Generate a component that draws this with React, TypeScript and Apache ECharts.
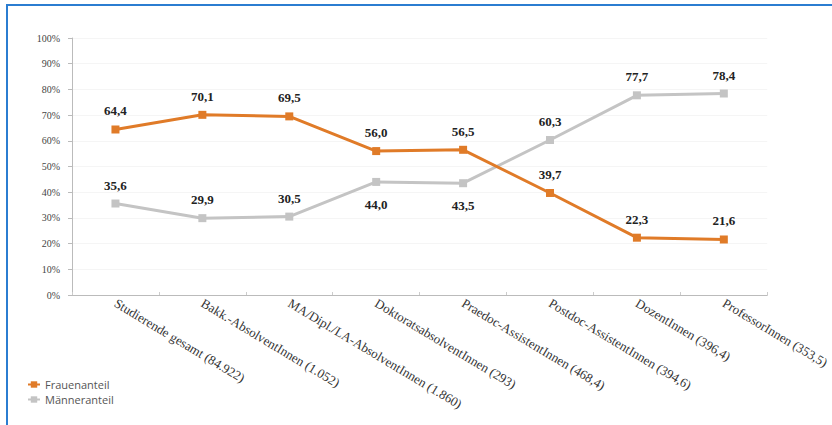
import React, { useEffect, useRef } from "react";
import * as echarts from "echarts";

const categories = [
  "Studierende gesamt (84.922)",
  "Bakk.-AbsolventInnen (1.052)",
  "MA/Dipl./LA-AbsolventInnen (1.860)",
  "DoktoratsabsolventInnen (293)",
  "Praedoc-AssistentInnen (468,4)",
  "Postdoc-AssistentInnen (394,6)",
  "DozentInnen (396,4)",
  "ProfessorInnen (353,5)",
];
const frauen = [64.4, 70.1, 69.5, 56.0, 56.5, 39.7, 22.3, 21.6];
const maenner = [35.6, 29.9, 30.5, 44.0, 43.5, 60.3, 77.7, 78.4];
const maennerLabelBelow = [false, false, false, true, true, false, false, false];

const SERIF = "'Liberation Serif', 'DejaVu Serif', serif";
const fmt = (v: number) => v.toFixed(1).replace(".", ",");

export default function App() {
  const ref = useRef<HTMLDivElement>(null);
  useEffect(() => {
    document.body.style.margin = "0";
    const chart = echarts.init(ref.current!, undefined, { renderer: "svg" });
    const labelBase = {
      show: true,
      fontFamily: SERIF,
      fontWeight: "bold" as const,
      fontSize: 13,
      color: "#222",
      formatter: (p: any) => fmt(p.value),
    };
    chart.setOption({
      animation: false,
      backgroundColor: "#fff",
      graphic: [
        {
          type: "rect",
          shape: { x: 7, y: 5, width: 850, height: 450 },
          style: { fill: "none", stroke: "#2b7dd1", lineWidth: 2 },
          silent: true,
        },
      ],
      legend: {
        left: 22,
        top: 374,
        orient: "vertical",
        itemGap: 4,
        itemWidth: 12,
        itemHeight: 8,
        textStyle: {
          fontFamily: "'Open Sans', 'Noto Sans', sans-serif",
          fontSize: 11,
          color: "#555",
        },
        data: ["Frauenanteil", "Männeranteil"],
      },
      grid: { left: 72, right: 57, top: 38, bottom: 130 },
      xAxis: {
        type: "category",
        data: categories,
        boundaryGap: true,
        axisLine: { lineStyle: { color: "#bbb", width: 1 } },
        axisTick: { show: true, inside: true, length: 3, lineStyle: { color: "#ccc" } },
        axisLabel: {
          interval: 0,
          rotate: -31,
          margin: 7,
          fontFamily: SERIF,
          fontSize: 13,
          color: "#333",
        },
      },
      yAxis: {
        type: "value",
        min: 0,
        max: 100,
        interval: 10,
        axisLine: { show: true, lineStyle: { color: "#bbb", width: 1 } },
        axisTick: { show: true, length: 4, lineStyle: { color: "#bbb" } },
        axisLabel: {
          formatter: "{value}%",
          fontFamily: SERIF,
          fontSize: 10,
          color: "#444",
          margin: 12,
        },
        splitLine: { lineStyle: { color: "#f5f5f5" } },
      },
      series: [
        {
          name: "Frauenanteil",
          type: "line",
          data: frauen,
          symbol: "rect",
          symbolSize: 8,
          itemStyle: { color: "#e07b28" },
          lineStyle: { color: "#e07b28", width: 3 },
          label: { ...labelBase, position: "top", distance: 8 },
          z: 3,
        },
        {
          name: "Männeranteil",
          type: "line",
          data: maenner.map((v, i) => ({
            value: v,
            label: maennerLabelBelow[i]
              ? { position: "bottom", distance: 12 }
              : { position: "top", distance: 8 },
          })),
          symbol: "rect",
          symbolSize: 8,
          itemStyle: { color: "#c4c4c4" },
          lineStyle: { color: "#c4c4c4", width: 3 },
          label: { ...labelBase, position: "top", distance: 8 },
          z: 2,
        },
      ],
    });
    return () => chart.dispose();
  }, []);
  return <div ref={ref} style={{ width: 832, height: 425 }} />;
}
